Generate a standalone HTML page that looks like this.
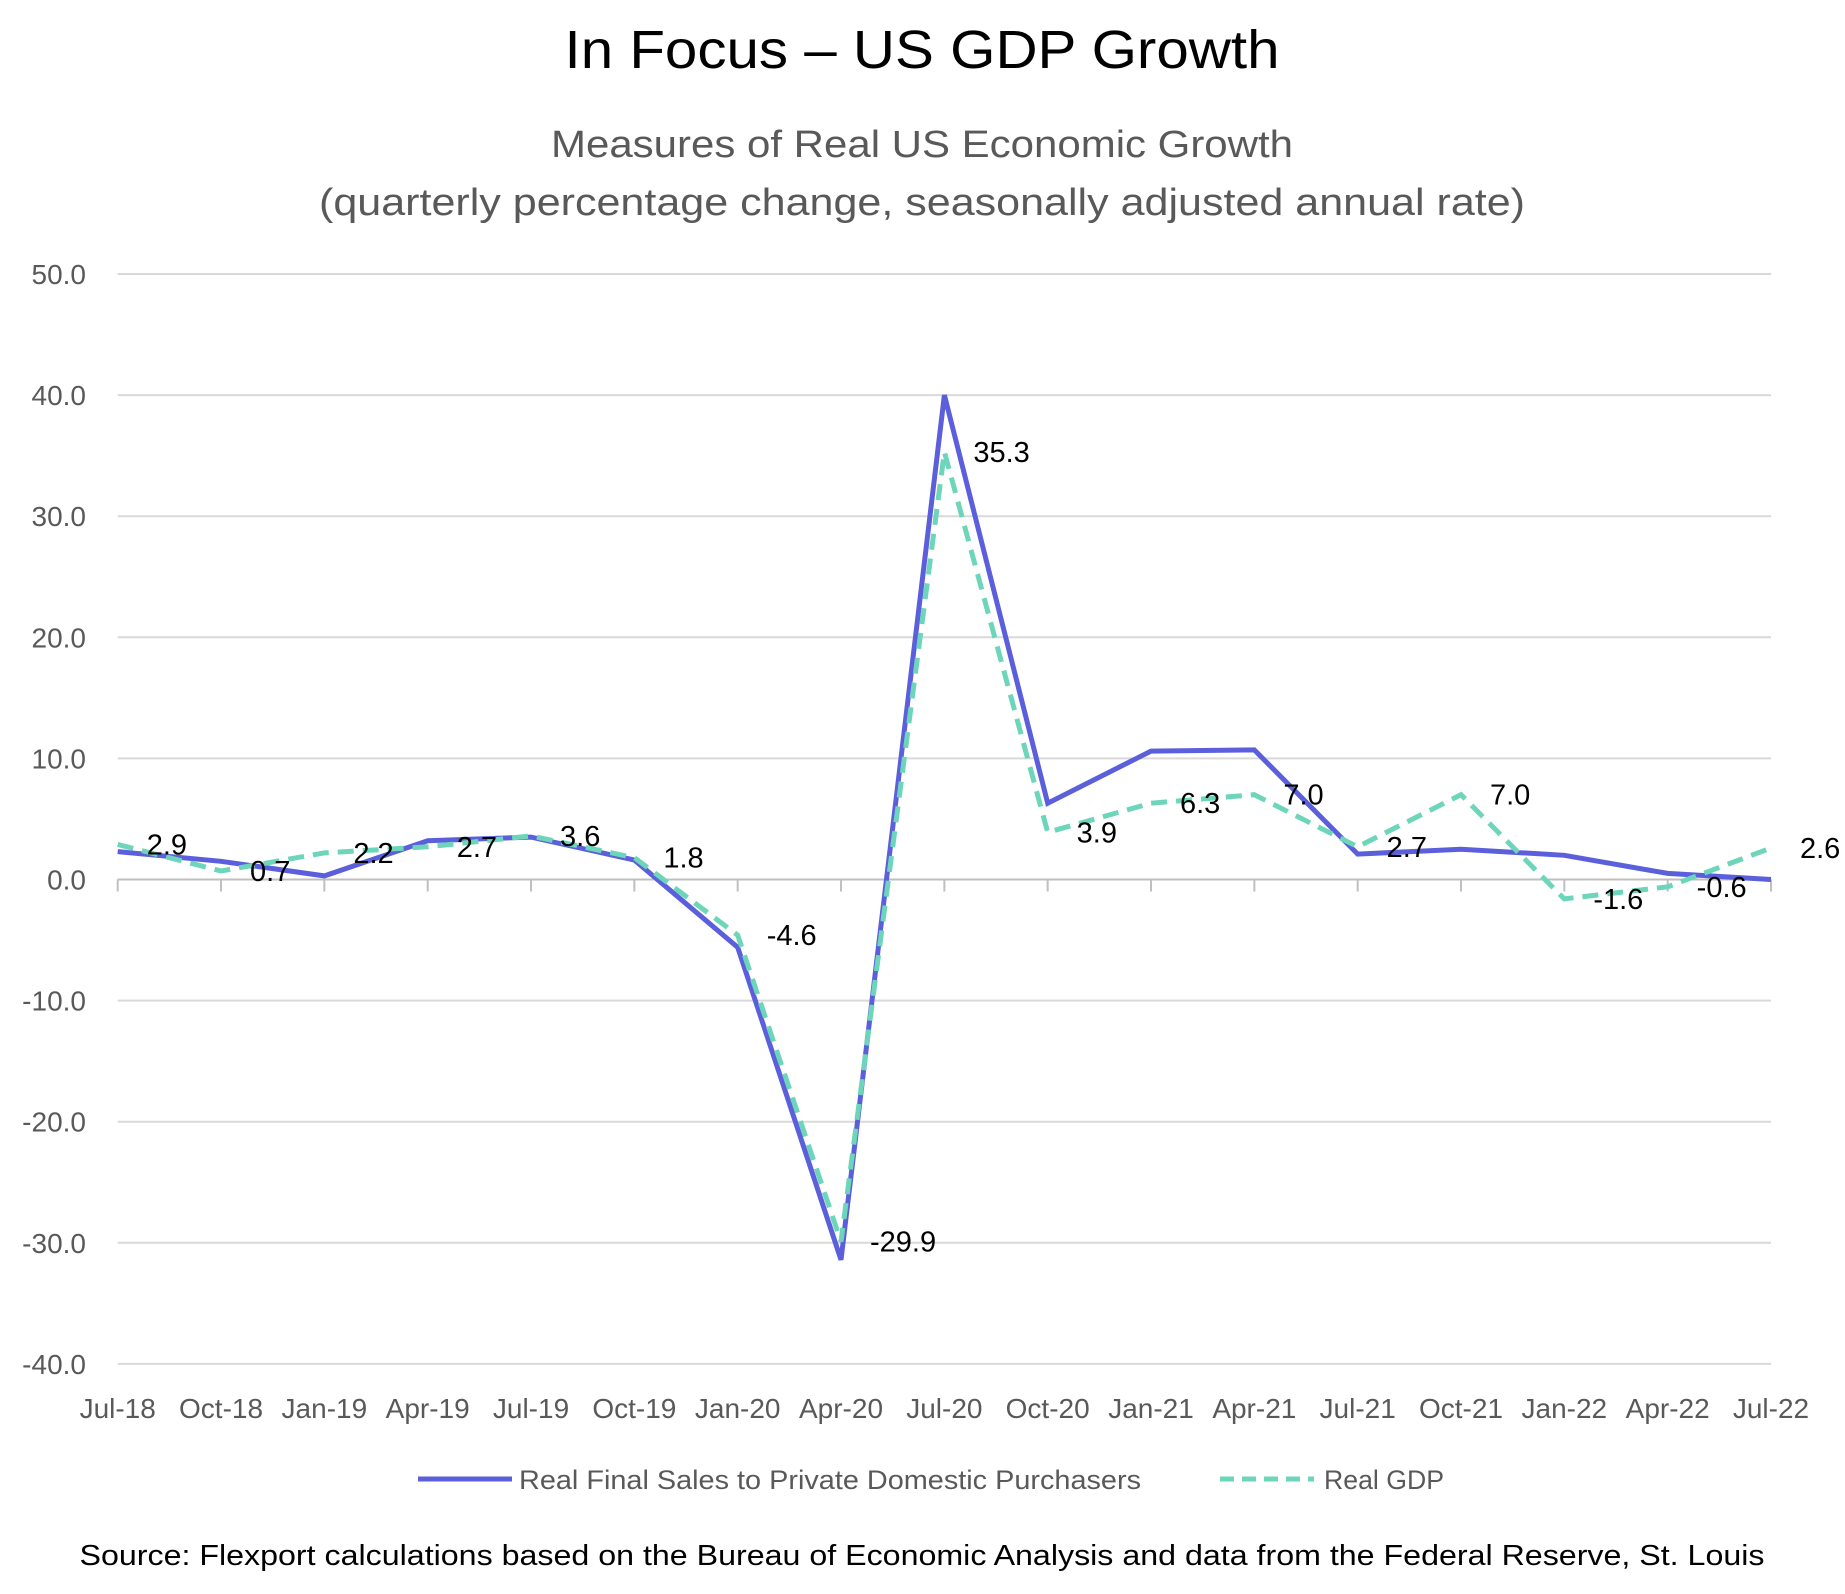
<!DOCTYPE html>
<html><head><meta charset="utf-8"><style>
body{margin:0;background:#fff;}
svg{display:block;font-family:"Liberation Sans",Carlito,sans-serif;}
</style></head><body>
<svg id="chart" width="1845" height="1594" viewBox="0 0 1845 1594">
<text x="922" y="68" font-size="54" text-anchor="middle" fill="#000" textLength="715" lengthAdjust="spacingAndGlyphs">In Focus – US GDP Growth</text>
<text x="922" y="157" font-size="38" text-anchor="middle" fill="#595959" textLength="742" lengthAdjust="spacingAndGlyphs">Measures of Real US Economic Growth</text>
<text x="922" y="215" font-size="38" text-anchor="middle" fill="#595959" textLength="1206" lengthAdjust="spacingAndGlyphs">(quarterly percentage change, seasonally adjusted annual rate)</text>
<g id="grid"></g><g id="axes"></g><g id="series"></g><g id="labels"></g>
<g>
<line x1="418" y1="1479" x2="512" y2="1479" stroke="#5B5FDB" stroke-width="5"/>
<text x="519" y="1489" font-size="27" fill="#595959" textLength="622" lengthAdjust="spacingAndGlyphs">Real Final Sales to Private Domestic Purchasers</text>
<line x1="1220" y1="1479" x2="1314" y2="1479" stroke="#6DD5B9" stroke-width="5" stroke-dasharray="14,8"/>
<text x="1324" y="1489" font-size="27" fill="#595959" textLength="120" lengthAdjust="spacingAndGlyphs">Real GDP</text>
</g>
<text x="922" y="1565" font-size="29" text-anchor="middle" fill="#000" textLength="1685" lengthAdjust="spacingAndGlyphs">Source: Flexport calculations based on the Bureau of Economic Analysis and data from the Federal Reserve, St. Louis</text>
</svg>
<script>
const categories=["Jul-18","Oct-18","Jan-19","Apr-19","Jul-19","Oct-19","Jan-20","Apr-20","Jul-20","Oct-20","Jan-21","Apr-21","Jul-21","Oct-21","Jan-22","Apr-22","Jul-22"];
const finalSales=[2.3,1.5,0.3,3.2,3.5,1.6,-5.6,-31.4,40.0,6.3,10.6,10.7,2.1,2.5,2.0,0.5,0.0];
const realGdp=[2.9,0.7,2.2,2.7,3.6,1.8,-4.6,-29.9,35.3,3.9,6.3,7.0,2.7,7.0,-1.6,-0.6,2.6];
const yTicks=[50,40,30,20,10,0,-10,-20,-30,-40];
const NS="http://www.w3.org/2000/svg";
const X0=117.7,X1=1771,Y50=274,PX10=121.1;
function xs(i){return X0+(X1-X0)*i/(categories.length-1);}
function ys(v){return Y50+(50-v)*PX10/10;}
function mk(tag,attrs,parent,txt){const e=document.createElementNS(NS,tag);for(const k in attrs)e.setAttribute(k,attrs[k]);if(txt!==undefined)e.textContent=txt;parent.appendChild(e);return e;}
const grid=document.getElementById('grid'),axes=document.getElementById('axes'),series=document.getElementById('series'),labels=document.getElementById('labels');
yTicks.forEach(v=>{
  const l=mk('line',{x1:X0,x2:X1,y1:ys(v),y2:ys(v),stroke:'#D9D9D9','stroke-width':2},grid);
  
  
  const t=mk('text',{x:86,y:ys(v)+10,'font-size':28,'text-anchor':'end',fill:'#595959'},axes,v.toFixed(1));
  
  
});
const zl=mk('line',{x1:X0,x2:X1,y1:ys(0),y2:ys(0),stroke:'#BFBFBF','stroke-width':2},axes);


categories.forEach((c,i)=>{
  const tk=mk('line',{x1:xs(i),x2:xs(i),y1:ys(0),y2:ys(0)+12,stroke:'#BFBFBF','stroke-width':2},axes);
  
  
  const t=mk('text',{x:xs(i),y:1418,'font-size':28,'text-anchor':'middle',fill:'#595959'},axes,c);
  
  
});
function pts(arr){return arr.map((v,i)=>xs(i).toFixed(1)+','+ys(v).toFixed(1)).join(' ');}
const l1=mk('polyline',{points:pts(finalSales),fill:'none',stroke:'#5B5FDB','stroke-width':5,'stroke-linejoin':'miter'},series);


const l2=mk('polyline',{points:pts(realGdp),fill:'none',stroke:'#6DD5B9','stroke-width':5,'stroke-dasharray':'16,9'},series);


realGdp.forEach((v,i)=>{
  const t=mk('text',{x:xs(i)+29,y:ys(v)+10,'font-size':29,fill:'#000'},labels,v.toFixed(1));
  
  
});
</script>
</body></html>
